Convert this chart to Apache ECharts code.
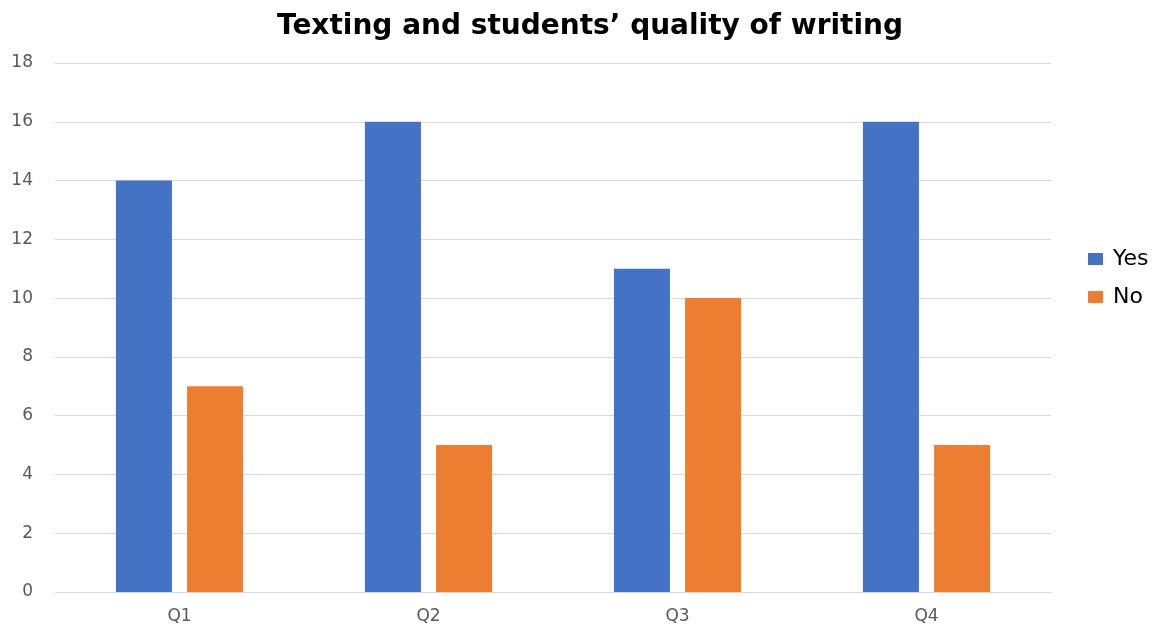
<!DOCTYPE html>
<html><head><meta charset="utf-8">
<script src="https://cdn.jsdelivr.net/npm/echarts@6/dist/echarts.min.js"></script>
<style>html,body{margin:0;padding:0;background:#fff}#c{width:1161px;height:625px}</style>
</head><body><div id="c"></div>
<script>
const categories = ['Q1','Q2','Q3','Q4'];
const yesValues = [14,16,11,16];
const noValues = [7,5,10,5];
const chart = echarts.init(document.getElementById('c'));
chart.setOption({
  animation:false,
  title:{text:'Texting and students\u2019 quality of writing',left:585,top:8,textAlign:'center',
    textStyle:{fontFamily:'DejaVu Sans',fontWeight:'bold',fontSize:28,color:'#000'}},
  legend:{orient:'vertical',left:1083,top:243,itemWidth:15,itemHeight:12,itemGap:16,icon:'rect',
    textStyle:{fontFamily:'DejaVu Sans',fontSize:22,lineHeight:22,color:'#000',padding:[0,0,0,5]},data:['Yes','No']},
  grid:{left:55,right:110,top:63,bottom:32,containLabel:false},
  xAxis:{type:'category',data:categories,axisTick:{show:false},
    axisLine:{lineStyle:{color:'#d9d9d9'}},
    axisLabel:{fontFamily:'DejaVu Sans',fontSize:17,color:'#595959',margin:16}},
  yAxis:{type:'value',min:0,max:18,interval:2,axisLine:{show:false},axisTick:{show:false},
    splitLine:{lineStyle:{color:'#d9d9d9'}},
    axisLabel:{fontFamily:'DejaVu Sans',fontSize:17,color:'#595959',margin:22}},
  series:[
    {name:'Yes',type:'bar',data:yesValues,barWidth:'22.5%',barGap:'27%',itemStyle:{color:'#4472c4'}},
    {name:'No',type:'bar',data:noValues,barWidth:'22.5%',barGap:'27%',itemStyle:{color:'#ed7d31'}}
  ]
});
</script></body></html>
